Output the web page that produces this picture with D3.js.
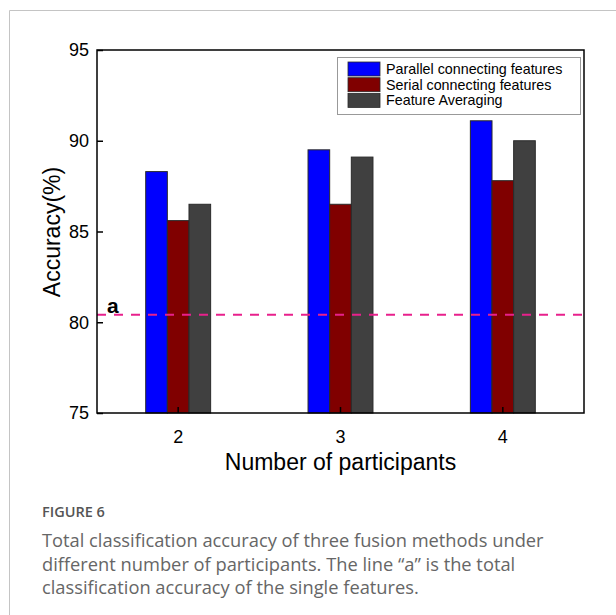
<!DOCTYPE html>
<html>
<head>
<meta charset="utf-8">
<script src="https://cdn.jsdelivr.net/npm/d3@7/dist/d3.min.js"></script>
<style>
  html, body { margin: 0; padding: 0; background: #fff; }
  svg { display: block; }
</style>
</head>
<body>
<svg id="chart" width="616" height="615"></svg>
<script>
const categories = ["2", "3", "4"];
const seriesNames = ["Parallel connecting features", "Serial connecting features", "Feature Averaging"];
const parallelValues = [88.3, 89.5, 91.1];
const serialValues = [85.6, 86.5, 87.8];
const averagingValues = [86.5, 89.1, 90.0];
const seriesColors = ["#0000ff", "#800000", "#404040"];
const yTicks = [75, 80, 85, 90, 95];
const singleFeatureLine = 80.42;
const lineLabel = "a";
const xTitle = "Number of participants";
const yTitle = "Accuracy(%)";
const captionHead = "FIGURE 6";
const captionLines = [
  "Total classification accuracy of three fusion methods under",
  "different number of participants. The line \u201ca\u201d is the total",
  "classification accuracy of the single features."
];

(function () {
const seriesValues = [parallelValues, serialValues, averagingValues];
const svg = d3.select("#chart");

// card border
svg.append("line").attr("x1", 9.5).attr("x2", 616).attr("y1", 10.5).attr("y2", 10.5)
  .attr("stroke", "#c4c4c4").attr("stroke-width", 1);
svg.append("line").attr("x1", 9.5).attr("x2", 9.5).attr("y1", 10.5).attr("y2", 615)
  .attr("stroke", "#c4c4c4").attr("stroke-width", 1);

const pLeft = 97, pRight = 584, pTop = 50, pBottom = 413;
const x = d3.scaleBand().domain(categories).range([pLeft, pRight]).paddingInner(0.6).paddingOuter(0.3);
const xs = d3.scaleBand().domain(d3.range(seriesNames.length)).range([0, x.bandwidth()]);
const y = d3.scaleLinear().domain([75, 95]).range([pBottom, pTop]);

// bars
seriesNames.forEach((name, si) => {
  svg.append("g").selectAll("rect").data(categories).join("rect")
    .attr("x", c => x(c) + xs(si))
    .attr("y", (c, i) => y(seriesValues[si][i]))
    .attr("width", xs.bandwidth())
    .attr("height", (c, i) => y(75) - y(seriesValues[si][i]))
    .attr("fill", seriesColors[si])
    .attr("stroke", "#2a2a2a")
    .attr("stroke-width", 1);
});

// dashed reference line
svg.append("line")
  .attr("x1", pLeft).attr("x2", pRight)
  .attr("y1", y(singleFeatureLine)).attr("y2", y(singleFeatureLine))
  .attr("stroke", "#e8208c").attr("stroke-width", 2)
  .attr("stroke-dasharray", "9,8");
svg.append("text").attr("x", 107).attr("y", 313)
  .attr("font-family", "Liberation Sans, Arial, sans-serif")
  .attr("font-weight", "bold").attr("font-size", 21).attr("fill", "#000")
  .text(lineLabel);

// axes
const yAxis = d3.axisLeft(y).tickValues(yTicks).tickSizeInner(-6).tickSizeOuter(0).tickPadding(8);
const gy = svg.append("g").attr("transform", `translate(${pLeft},0)`).call(yAxis);
const xAxis = d3.axisBottom(x).tickSizeInner(-6).tickSizeOuter(0).tickPadding(17);
const gx = svg.append("g").attr("transform", `translate(0,${pBottom})`).call(xAxis);
[gx, gy].forEach(g => {
  g.select(".domain").remove();
  g.selectAll(".tick line").attr("stroke", "#000").attr("stroke-width", 1.5);
  g.selectAll(".tick text").attr("font-family", "Liberation Sans, Arial, sans-serif")
    .attr("font-size", 18).attr("fill", "#000");
});

// frame
svg.append("rect").attr("x", pLeft).attr("y", pTop)
  .attr("width", pRight - pLeft).attr("height", pBottom - pTop)
  .attr("fill", "none").attr("stroke", "#000").attr("stroke-width", 1.5);

// titles
svg.append("text").attr("x", (pLeft + pRight) / 2).attr("y", 470)
  .attr("text-anchor", "middle")
  .attr("font-family", "Liberation Sans, Arial, sans-serif").attr("font-size", 23)
  .attr("fill", "#000").text(xTitle);
svg.append("text")
  .attr("transform", `translate(60,232) rotate(-90)`)
  .attr("text-anchor", "middle")
  .attr("font-family", "Liberation Sans, Arial, sans-serif").attr("font-size", 23)
  .attr("fill", "#000").text(yTitle);

// legend
const lg = svg.append("g");
lg.append("rect").attr("x", 337.5).attr("y", 57.5).attr("width", 243).attr("height", 57)
  .attr("fill", "#fff").attr("stroke", "#999").attr("stroke-width", 1);
seriesNames.forEach((name, i) => {
  lg.append("rect").attr("x", 348).attr("y", 62 + i * 15.7).attr("width", 32).attr("height", 14)
    .attr("fill", seriesColors[i]).attr("stroke", "#2a2a2a").attr("stroke-width", 0.8);
  lg.append("text").attr("x", 386).attr("y", 74 + i * 15.7)
    .attr("font-family", "Liberation Sans, Arial, sans-serif").attr("font-size", 14.3)
    .attr("fill", "#000").text(name);
});

// caption
svg.append("text").attr("x", 42).attr("y", 517)
  .attr("font-family", "Open Sans, Noto Sans, sans-serif").attr("font-size", 14.5)
  .attr("font-weight", 600).attr("fill", "#555").text(captionHead);
captionLines.forEach((t, i) => {
  svg.append("text").attr("x", 42).attr("y", 547 + i * 23.5)
    .attr("font-family", "Open Sans, Noto Sans, sans-serif").attr("font-size", 18.3)
    .attr("fill", "#666").text(t);
});
})();
</script>
</body>
</html>
